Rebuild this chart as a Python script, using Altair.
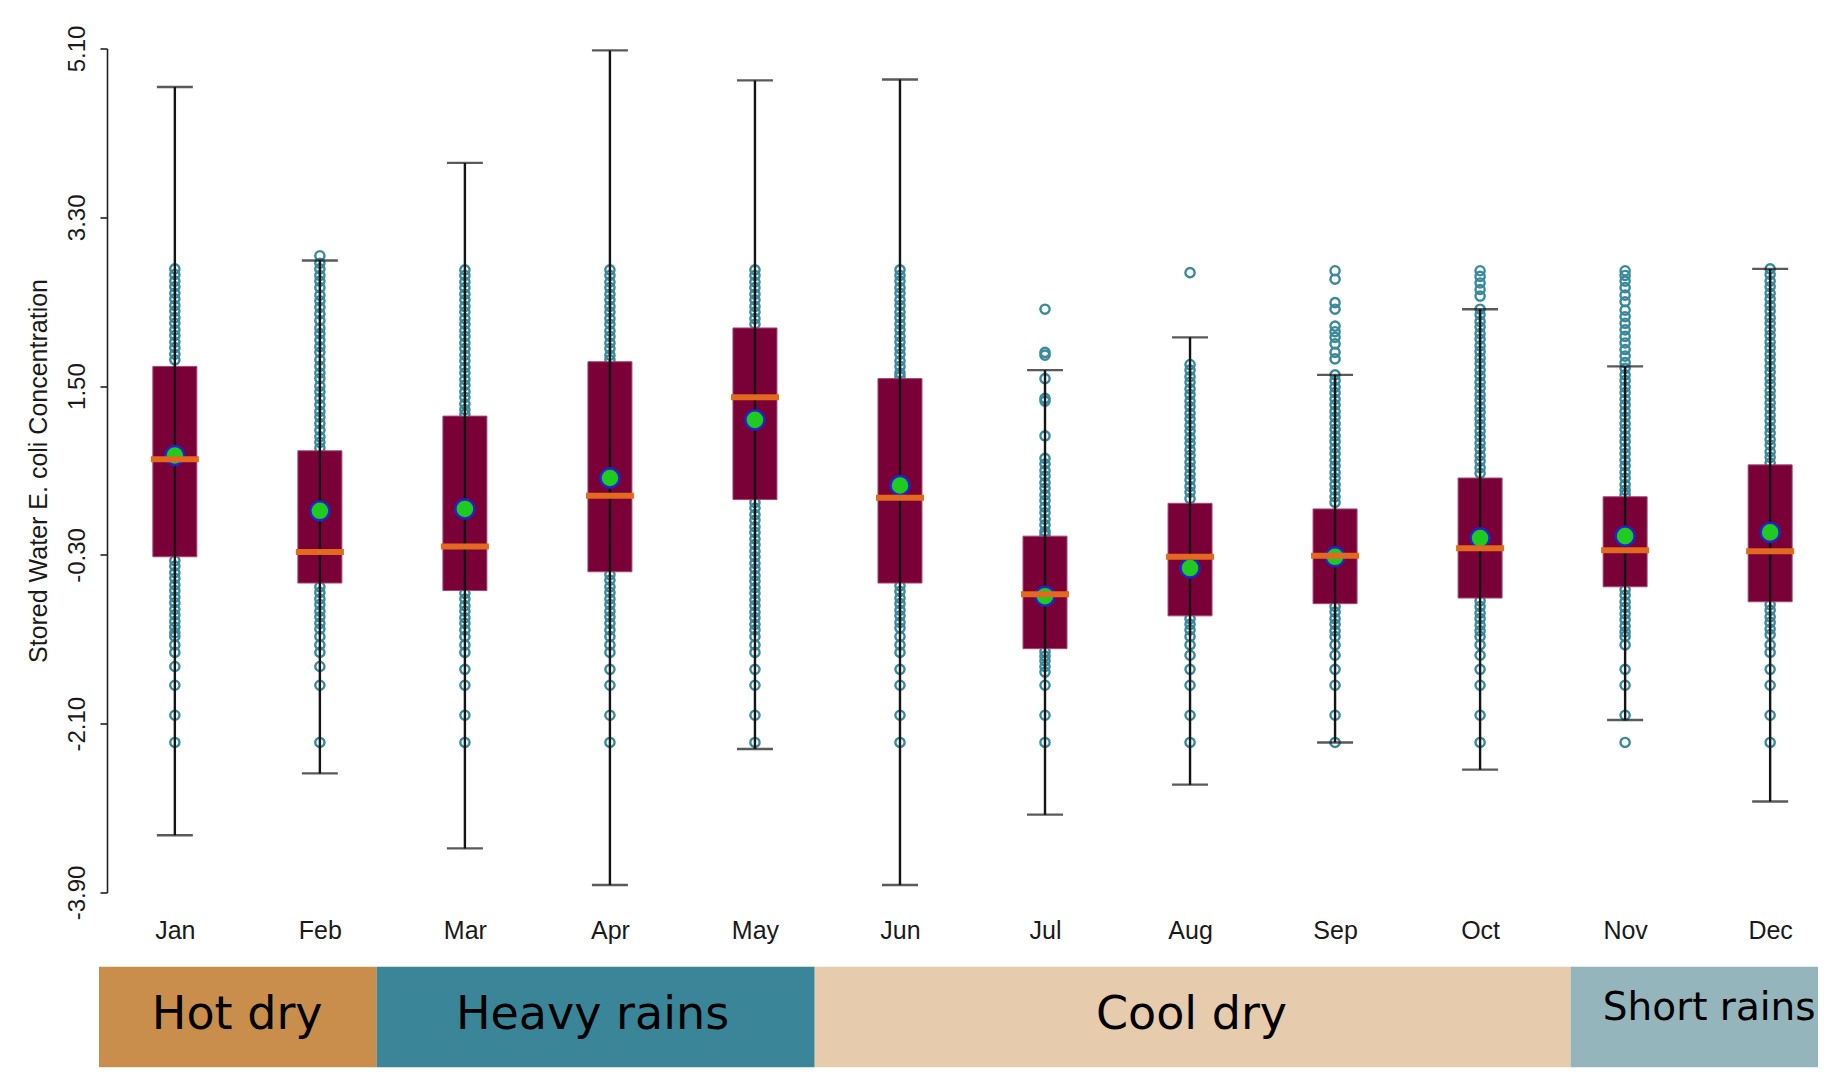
import altair as alt
import pandas as pd

months = ["Jan", "Feb", "Mar", "Apr", "May", "Jun", "Jul", "Aug", "Sep", "Oct", "Nov", "Dec"]
whisk_lo = [-3.29, -2.63, -3.43, -3.82, -2.37, -3.82, -3.07, -2.75, -2.30, -2.59, -2.06, -2.93]
q1 = [-0.32, -0.60, -0.68, -0.48, 0.29, -0.60, -1.30, -0.95, -0.82, -0.76, -0.64, -0.80]
median = [0.72, -0.27, -0.21, 0.33, 1.38, 0.31, -0.72, -0.32, -0.31, -0.23, -0.25, -0.26]
q3 = [1.71, 0.81, 1.18, 1.76, 2.12, 1.58, -0.10, 0.25, 0.19, 0.52, 0.32, 0.66]
whisk_hi = [4.69, 2.84, 3.88, 5.08, 4.76, 4.77, 1.67, 2.02, 1.62, 2.32, 1.71, 2.75]
mean = [0.76, 0.17, 0.19, 0.52, 1.14, 0.44, -0.74, -0.44, -0.32, -0.12, -0.10, -0.06]

pts_jan = [2.75, 2.69, 2.62, 2.56, 2.49, 2.43, 2.36, 2.30, 2.23, 2.17, 2.10, 2.04, 1.97, 1.91, 1.84, 1.78,
           -0.36, -0.42, -0.49, -0.55, -0.62, -0.68, -0.75, -0.81, -0.88, -0.94, -1.01, -1.07, -1.13, -1.17,
           -1.26, -1.34, -1.49, -1.69, -2.01, -2.30]
pts_feb = [2.89, 2.81, 2.75, 2.68, 2.62, 2.55, 2.47, 2.41, 2.34, 2.27, 2.20, 2.12, 2.06, 1.99, 1.92, 1.86,
           1.78, 1.71, 1.64, 1.58, 1.50, 1.44, 1.37, 1.30, 1.23, 1.17, 1.10, 1.03, 0.96, 0.90, 0.84,
           -0.64, -0.70, -0.77, -0.83, -0.90, -0.96, -1.03, -1.09, -1.17, -1.26, -1.34, -1.49, -1.69, -2.30]
pts_mar = [2.74, 2.68, 2.61, 2.55, 2.48, 2.42, 2.35, 2.29, 2.22, 2.16, 2.09, 2.03, 1.96, 1.90, 1.83, 1.77,
           1.70, 1.64, 1.57, 1.51, 1.44, 1.38, 1.31, 1.25, 1.20,
           -0.71, -0.77, -0.84, -0.90, -0.97, -1.03, -1.10, -1.17, -1.26, -1.34, -1.52, -1.69, -2.01, -2.30]
pts_apr = [2.74, 2.68, 2.61, 2.55, 2.48, 2.42, 2.35, 2.29, 2.22, 2.16, 2.09, 2.03, 1.96, 1.90, 1.83, 1.78,
           -0.51, -0.57, -0.64, -0.70, -0.77, -0.83, -0.90, -0.96, -1.03, -1.10, -1.17,
           -1.26, -1.34, -1.52, -1.69, -2.01, -2.30]
pts_may = [2.74, 2.68, 2.61, 2.55, 2.48, 2.42, 2.35, 2.29, 2.22, 2.16,
           0.26, 0.20, 0.13, 0.07, 0.00, -0.06, -0.13, -0.19, -0.26, -0.32, -0.39, -0.45, -0.52, -0.58,
           -0.65, -0.71, -0.78, -0.84, -0.91, -0.97, -1.04, -1.10, -1.17, -1.26, -1.34, -1.52, -1.69, -2.01, -2.30]
pts_jun = [2.74, 2.68, 2.62, 2.55, 2.49, 2.42, 2.36, 2.29, 2.23, 2.16, 2.10, 2.03, 1.97, 1.90, 1.84, 1.77,
           1.71, 1.64, 1.60,
           -0.63, -0.69, -0.76, -0.82, -0.89, -0.95, -1.02, -1.08, -1.17, -1.26, -1.34, -1.52, -1.69, -2.01, -2.30]
pts_jul = [2.32, 1.86, 1.83, 1.58, 1.37, 1.34, 0.97, 0.73, 0.67, 0.60, 0.54, 0.47, 0.41, 0.34, 0.28, 0.21,
           0.15, 0.08, 0.02, -0.05, -0.09,
           -1.33, -1.38, -1.43, -1.49, -1.55, -1.69, -2.01, -2.30]
pts_aug = [2.71, 1.73, 1.67, 1.60, 1.54, 1.47, 1.41, 1.34, 1.28, 1.21, 1.15, 1.08, 1.02, 0.95, 0.89, 0.82,
           0.76, 0.69, 0.63, 0.56, 0.50, 0.43, 0.37, 0.30,
           -0.98, -1.04, -1.10, -1.17, -1.26, -1.37, -1.52, -1.69, -2.01, -2.30]
pts_sep = [2.73, 2.64, 2.39, 2.32, 2.14, 2.08, 2.02, 1.95, 1.86, 1.79, 1.62, 1.56, 1.49, 1.43, 1.36, 1.30,
           1.23, 1.17, 1.10, 1.04, 0.97, 0.91, 0.84, 0.78, 0.71, 0.65, 0.58, 0.52, 0.45, 0.39, 0.32, 0.26,
           -0.85, -0.91, -0.98, -1.04, -1.11, -1.17, -1.26, -1.37, -1.52, -1.69, -2.01, -2.30]
pts_oct = [2.73, 2.67, 2.60, 2.53, 2.46, 2.32, 2.26, 2.19, 2.13, 2.06, 2.00, 1.93, 1.87, 1.80, 1.74, 1.67,
           1.61, 1.54, 1.48, 1.41, 1.35, 1.28, 1.22, 1.15, 1.09, 1.02, 0.96, 0.89, 0.83, 0.76, 0.70, 0.63, 0.57,
           -0.79, -0.85, -0.92, -0.98, -1.05, -1.11, -1.17, -1.26, -1.37, -1.52, -1.69, -2.01, -2.30]
pts_nov = [2.73, 2.68, 2.62, 2.55, 2.47, 2.40, 2.31, 2.24, 2.17, 2.10, 2.03, 1.96, 1.89, 1.82, 1.75, 1.69,
           1.62, 1.56, 1.49, 1.43, 1.36, 1.30, 1.23, 1.17, 1.10, 1.04, 0.97, 0.91, 0.84, 0.78, 0.71, 0.65,
           0.58, 0.52, 0.45, 0.39, 0.34,
           -0.67, -0.73, -0.80, -0.86, -0.93, -0.99, -1.06, -1.12, -1.17, -1.26, -1.52, -1.69, -2.01, -2.30]
pts_dec = [2.75, 2.69, 2.62, 2.56, 2.49, 2.43, 2.36, 2.30, 2.23, 2.17, 2.10, 2.04, 1.97, 1.91, 1.84, 1.78,
           1.71, 1.65, 1.58, 1.52, 1.45, 1.39, 1.32, 1.26, 1.19, 1.13, 1.06, 1.00, 0.93, 0.87, 0.80, 0.74, 0.68,
           -0.83, -0.89, -0.96, -1.02, -1.09, -1.15, -1.26, -1.34, -1.52, -1.69, -2.01, -2.30]

y_ticks = [-3.90, -2.10, -0.30, 1.50, 3.30, 5.10]

seasons = ["Hot dry", "Heavy rains", "Cool dry", "Short rains"]
season_start = [0.477, 2.393, 5.412, 10.624]
season_end = [2.393, 5.412, 10.624, 12.53]
season_label_x = [1.43, 3.88, 8.01, 11.58]
season_colors = ["#C98E4B", "#3A8698", "#E7CBAD", "#95B5BC"]

# ---------------------------------------------------------------- tables
idx = list(range(1, 13))
stats = pd.DataFrame({"m": idx, "month": months, "lo": whisk_lo, "q1": q1, "med": median,
                      "q3": q3, "hi": whisk_hi, "mean": mean})
all_pts = [pts_jan, pts_feb, pts_mar, pts_apr, pts_may, pts_jun,
           pts_jul, pts_aug, pts_sep, pts_oct, pts_nov, pts_dec]
pts = pd.DataFrame([{"m": i, "v": v} for i, vals in zip(idx, all_pts) for v in vals])
sdf = pd.DataFrame({"season": seasons, "start": season_start, "end": season_end, "lx": season_label_x})

XMIN, XMAX = 0.477, 12.33
PX_PER_MONTH = 145.0
W = round((XMAX - XMIN) * PX_PER_MONTH)
H = 844

xscale = alt.Scale(domain=[XMIN, XMAX], nice=False, zero=False, padding=0)
yscale = alt.Scale(domain=[min(y_ticks), max(y_ticks)], nice=False, zero=False, padding=0)

month_expr = "[" + ",".join("'%s'" % m for m in months) + "][round(datum.value) - 1]"
xaxis = alt.Axis(values=idx, labelExpr=month_expr, domain=False, ticks=False, tickSize=0,
                 labelPadding=26, labelFontSize=25, labelFont="Liberation Sans",
                 labelColor="#1a1a1a", grid=False, title=None)
yaxis = alt.Axis(values=y_ticks,
                 labelExpr="(datum.value < 0 ? '-' : '') + format(abs(datum.value), '.2f')",
                 offset=-8, grid=False, domainColor="#222222", domainWidth=1.6,
                 tickColor="#222222", tickWidth=1.6, tickSize=7,
                 labelAngle=-90, labelAlign="center", labelBaseline="middle", labelPadding=23,
                 labelFontSize=24, labelFont="Liberation Sans", labelColor="#1a1a1a",
                 title="Stored Water E. coli Concentration", titleFont="Liberation Sans",
                 titleFontSize=25, titleFontWeight="normal", titleColor="#1a1a1a",
                 titleAngle=-90, titleAlign="center", titleBaseline="middle",
                 titleX=-69, titleY=H / 2)


def X(field="m:Q"):
    return alt.X(field, scale=xscale, axis=xaxis)


def Y(field):
    return alt.Y(field, scale=yscale, axis=yaxis)


points = alt.Chart(pts).mark_point(shape="circle", filled=False, color="#3A8A9C", size=85,
                                   strokeWidth=2.4, opacity=1).encode(x=X(), y=Y("v:Q"))
box = alt.Chart(stats).mark_bar(size=44, color="#7A0038", stroke="#A04A74",
                                strokeWidth=1).encode(x=X(), y=Y("q1:Q"), y2="q3:Q")
whisker = alt.Chart(stats).mark_rule(color="#141414", strokeWidth=2.4).encode(
    x=X(), y=Y("lo:Q"), y2="hi:Q")
caps = alt.Chart(stats).transform_fold(["lo", "hi"], as_=["k", "cap"]).mark_tick(
    orient="horizontal", size=36, thickness=2.4, color="#141414").encode(x=X(), y=Y("cap:Q"))
mean_pt = alt.Chart(stats).mark_point(shape="circle", filled=True, fill="#1FCB1F", stroke="#2323CC",
                                      strokeWidth=2.4, size=360, opacity=1).encode(x=X(), y=Y("mean:Q"))
med = alt.Chart(stats).mark_tick(orient="horizontal", size=48, thickness=6, color="#E2691D",
                                 opacity=1).encode(x=X(), y=Y("med:Q"))

top = alt.layer(points, box, whisker, caps, mean_pt, med).properties(width=W, height=H)

SH = 101
sx = alt.X("start:Q", scale=xscale, axis=None)
rects = alt.Chart(sdf).mark_rect(clip=True).encode(
    x=sx, x2="end:Q",
    color=alt.Color("season:N", scale=alt.Scale(domain=seasons, range=season_colors), legend=None))
big_txt = alt.Chart(sdf).transform_filter(alt.datum.season != "Short rains").mark_text(
    font="DejaVu Sans", fontSize=46, color="black", baseline="middle", dy=-2).encode(
    x=alt.X("lx:Q", scale=xscale, axis=None), text="season:N")
small_txt = alt.Chart(sdf).transform_filter(alt.datum.season == "Short rains").mark_text(
    font="DejaVu Sans", fontSize=39, color="black", baseline="middle", dy=-9).encode(
    x=alt.X("lx:Q", scale=xscale, axis=None), text="season:N")
season = alt.layer(rects, big_txt, small_txt).properties(width=W, height=SH)

chart = alt.vconcat(top, season, spacing=23).properties(
    padding={"left": 18, "top": 16.5, "right": 0, "bottom": 0},
    background="white",
).configure_view(stroke=None)

chart.save("out.html", embed_options={"renderer": "svg", "actions": False})
